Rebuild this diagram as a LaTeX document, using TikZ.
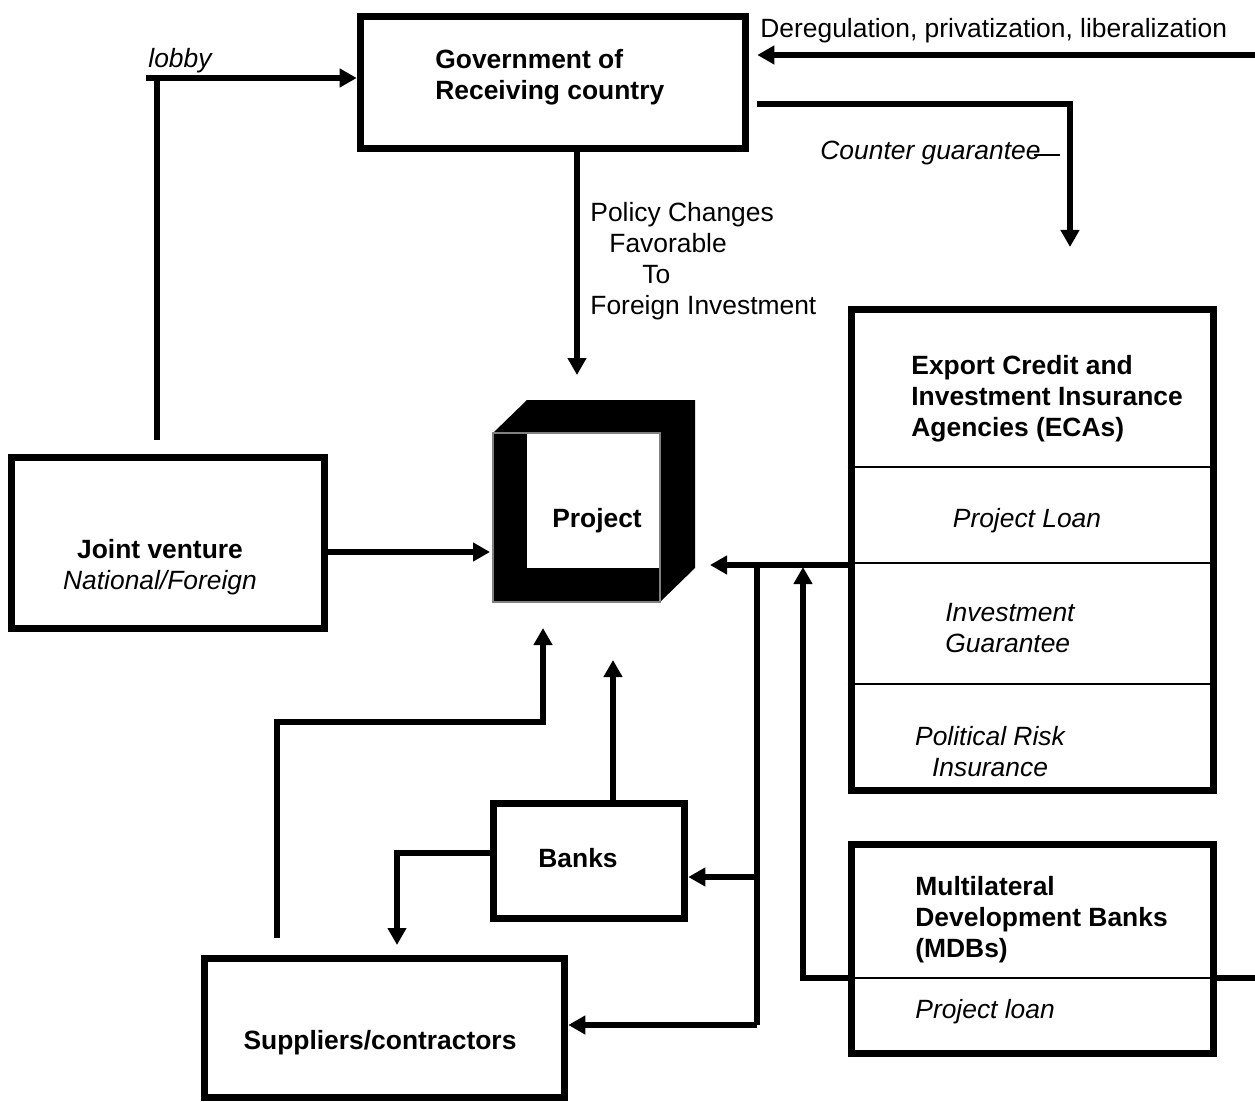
\documentclass[tikz,border=0pt]{standalone}
\usepackage{fontspec}
\setmainfont{Liberation Sans}
\usetikzlibrary{arrows.meta,calc}

\begin{document}
\begin{tikzpicture}[
  x=0.5pt, y=-0.5pt,
  every node/.style={font=\fontsize{13.2}{15.5}\selectfont, inner sep=0pt},
  head/.style={font=\fontsize{13.2}{15.5}\selectfont\bfseries},
  sub/.style={font=\fontsize{13.2}{15.5}\selectfont\itshape},
  boxed/.style={draw, line width=3.8pt},
  flow/.style={line width=2.8pt},
  >={Triangle[length=8.5pt,width=9pt]}
]
\useasboundingbox (0,0) rectangle (1255,1102);

% Boxes
\node[boxed, minimum width=192.5pt, minimum height=66pt] (gov) at (553,82.5) {};
\node[boxed, minimum width=156.5pt, minimum height=85.5pt] (jv) at (168,543) {};
\node[boxed, minimum width=180pt, minimum height=69.5pt] (sup) at (384.5,1028) {};
\node[boxed, minimum width=95.5pt, minimum height=57.5pt] (banks) at (589,861) {};
\node[boxed, minimum width=181pt, minimum height=240.5pt] (eca) at (1032.5,550) {};
\node[boxed, minimum width=181pt, minimum height=104.5pt] (mdb) at (1032.5,949) {};

% ECA and MDB rows
\foreach \y in {467,563,684}
  \draw[line width=0.7pt] (eca.west |- 0,\y) -- (eca.east |- 0,\y);
\draw[line width=0.7pt] (mdb.west |- 0,978) -- (mdb.east |- 0,978);

% The project cube
\fill (493,433) -- (527,400) -- (695,400) -- (695,568) -- (660,602) -- (493,602) -- cycle;
\fill[white] (527,433) rectangle (660,568);
\draw[gray, line width=0.6pt] (493,433) rectangle (660,602);

% Texts
\node[head, align=left, anchor=west] (govtxt) at (435,77) {Government of\\Receiving country};
\node[head] (project) at (597,521) {Project};
\node[align=center] (jvtxt) at (160,567) {\textbf{Joint venture}\\\textit{National/Foreign}};
\node[head] (suptxt) at (380,1043) {Suppliers/contractors};
\node[head] (bankstxt) at (578,858) {Banks};
\node[head, align=left, anchor=west] (ecatxt) at (911,399)
  {Export Credit and\\Investment Insurance\\Agencies (ECAs)};
\node[sub] (ecaloan) at (1027,521) {Project Loan};
\node[sub, align=left, anchor=west] (ecaguar) at (945,628.5) {Investment\\Guarantee};
\node[sub, align=center] (ecarisk) at (990,751.5) {Political Risk\\Insurance};
\node[head, align=left, anchor=west] (mdbtxt) at (915,919.5)
  {Multilateral\\Development Banks\\(MDBs)};
\node[sub, anchor=west] (mdbloan) at (915,1012) {Project loan};

\node[sub, anchor=west] (lobbytxt) at (148,61) {lobby};
\node[anchor=west] (deregtxt) at (760,31) {Deregulation, privatization, liberalization};
\node[sub, anchor=west] (cgtxt) at (820,153) {Counter guarantee};
\draw[line width=0.7pt] (1034,155) -- (1060,155);
\node[align=left, anchor=west] (policytxt) at (590,261)
  {Policy Changes\\\hspace*{9.5pt}Favorable\\\hspace*{26pt}To\\Foreign Investment};

% Coordinates for free ends and bends
\coordinate (lobbyfoot) at (157,440);
\coordinate (lobbyknee) at (146,78);
\coordinate (dereg) at (1255,55);
\coordinate (cgknee) at (1070,104);
\coordinate (cgend) at (1070,247);
\coordinate (polend) at (577,375);
\coordinate (pjv) at (490,552);
\coordinate (ecatip) at (710,565);
\coordinate (trunktop) at (757,565);
\coordinate (trunkbot) at (757,1025);
\coordinate (mdbknee) at (803,978);
\coordinate (mdbup) at (803,567);
\coordinate (mdbout) at (1255,978);
\coordinate (bankstip) at (613,660);
\coordinate (bsknee) at (397,853);
\coordinate (bsktip) at (397,945);
\coordinate (supfoot) at (277,938);
\coordinate (supknee) at (543,722);
\coordinate (suptip) at (543,628);

% Connectors
\draw[flow] (lobbyfoot) -- (lobbyfoot |- lobbyknee);
\draw[flow, ->] (lobbyknee) -- (lobbyknee -| gov.west);
\draw[flow, ->, shorten >=4pt] (dereg) -- (dereg -| gov.east);
\draw[flow, ->, shorten <=4pt] (cgknee -| gov.east) -- (cgknee) -- (cgend);
\draw[flow, ->] (polend |- gov.south) -- (polend);
\draw[flow, ->] (pjv -| jv.east) -- (pjv);
\draw[flow, ->] (ecatip -| eca.west) -- (ecatip);
\draw[flow] (trunktop) -- (trunkbot);
\draw[flow, ->] (trunktop |- 0,877) -- (banks.east |- 0,877);
\draw[flow, ->] (trunkbot) -- (trunkbot -| sup.east);
\draw[flow, ->] (mdbknee -| mdb.west) -- (mdbknee) -- (mdbup);
\draw[flow] (mdbknee -| mdb.east) -- (mdbout);
\draw[flow, ->] (bankstip |- banks.north) -- (bankstip);
\draw[flow, ->] (bsknee -| banks.west) -- (bsknee) -- (bsktip);
\draw[flow, ->] (supfoot) |- (supknee) -- (suptip);

\end{tikzpicture}
\end{document}
